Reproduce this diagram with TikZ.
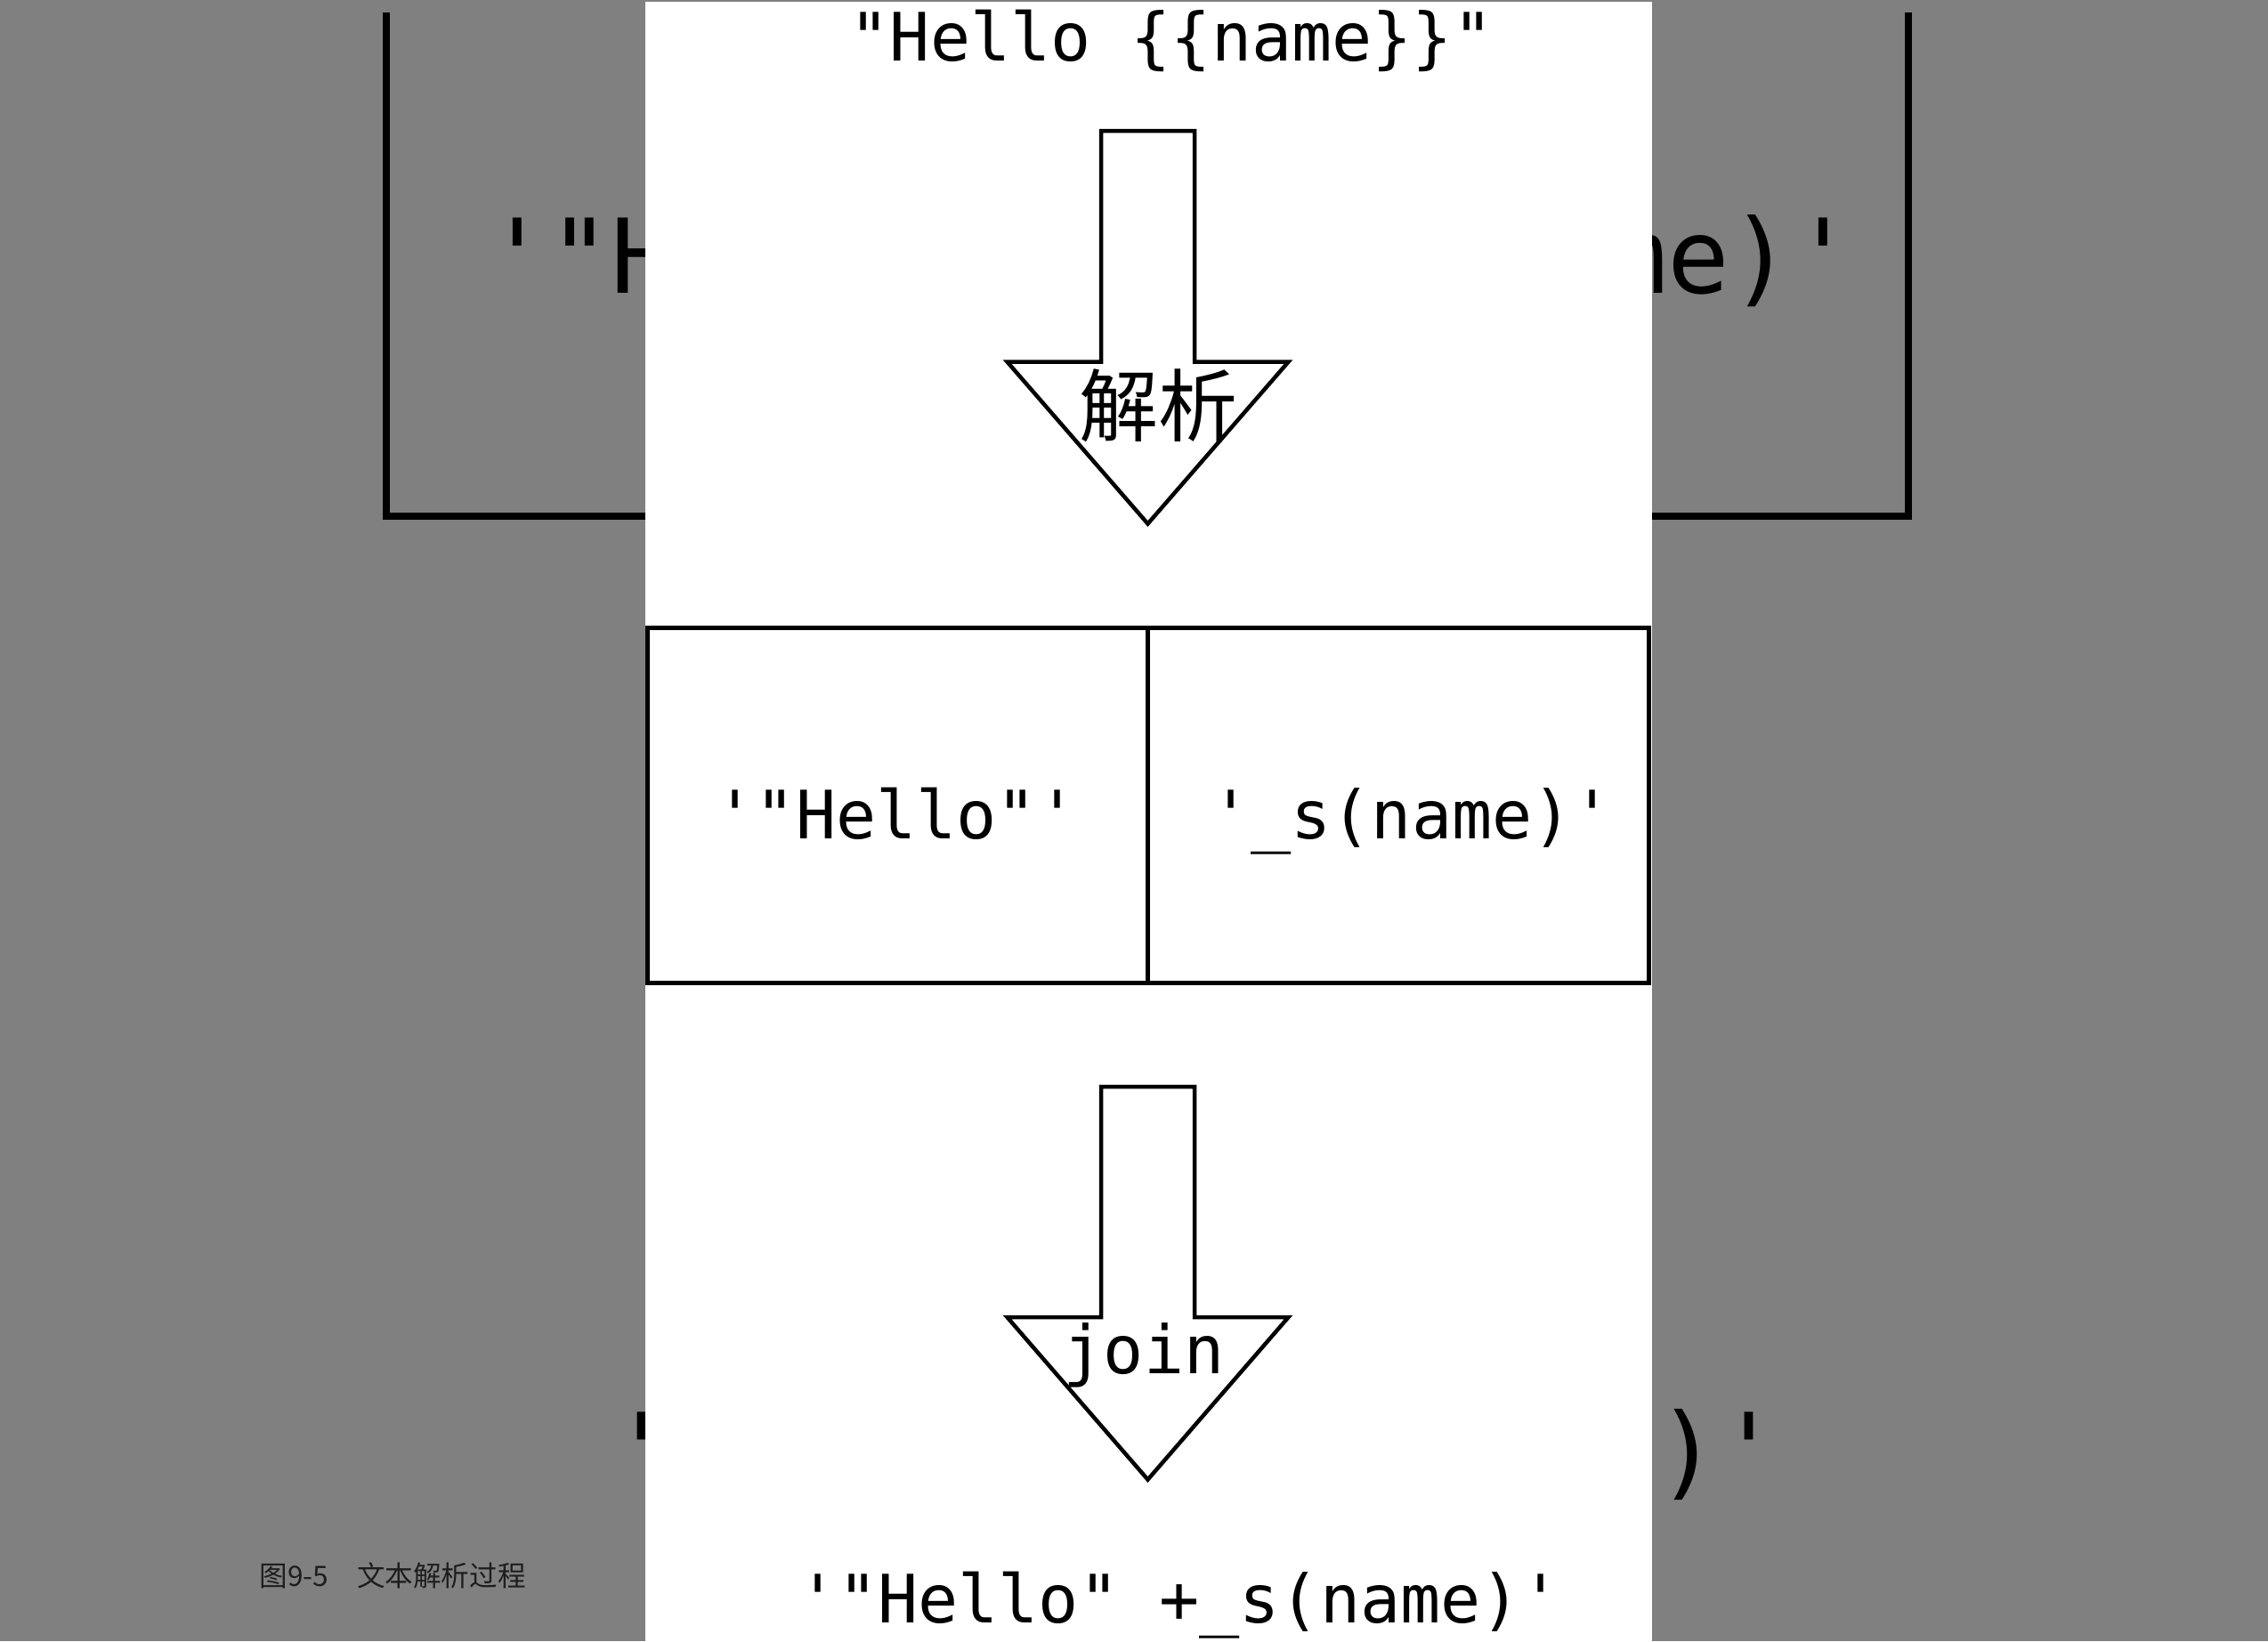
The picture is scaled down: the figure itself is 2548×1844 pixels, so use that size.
\documentclass[tikz,border=0pt]{standalone}
\usepackage{fontspec}
\newfontfamily\dmono{DejaVu Sans Mono}
\newfontfamily\cjksans{Noto Sans CJK SC}
\IfFontExistsTF{FandolSong-Regular.otf}{\newfontfamily\cjkserif{FandolSong-Regular.otf}}{%
  \IfFontExistsTF{HaranoAjiMincho-Regular.otf}{\newfontfamily\cjkserif{HaranoAjiMincho-Regular.otf}}{%
    \IfFontExistsTF{ipaexm.ttf}{\newfontfamily\cjkserif{ipaexm.ttf}}{\newfontfamily\cjkserif{Noto Sans CJK SC}}}}
\newcommand\qsgl{\textquotesingle}
\newcommand\qdbl{\textquotedbl}
\definecolor{bggray}{RGB}{128,128,128}
\definecolor{captxt}{RGB}{30,30,30}
\begin{document}
\begin{tikzpicture}[x=0.25pt,y=-0.25pt,
  mono/.style={font=\dmono\fontsize{18.75}{20}\selectfont, inner sep=0pt, anchor=base},
  bigmono/.style={font=\dmono\fontsize{29}{31}\selectfont, inner sep=0pt, anchor=base},
  cjklabel/.style={font=\cjkserif\fontsize{22.25}{24}\selectfont, inner sep=0pt},
  blockarrow/.style={draw=black, fill=white, line width=1.125pt, line join=miter},
  cellbox/.style={draw=black, line width=1.25pt, line join=miter},
  bracket/.style={draw=black, line width=2pt, line join=miter}]
\useasboundingbox (0,0) rectangle (2548,1844);
% background layer
\fill[bggray] (0,0) rectangle (2548,1844);
\draw[bracket] (434,14) -- (434,580) -- (2144,580) -- (2144,14);
\node[bigmono] (bgtop) at (1315,329) {\qsgl\qdbl Hello\qdbl\qsgl{} + \qsgl\_s(name)\qsgl};
\node[bigmono, font=\dmono\fontsize{28.7}{31}\selectfont] (bgbottom) at (1343,1670) {\qsgl\qdbl Hello\qdbl{} +\_s(name)\qsgl};
\node[font=\cjksans\fontsize{7.9}{9}\selectfont, text=captxt, anchor=base west, inner sep=0pt] (caption) at (291,1782) {图9-5　文本解析过程};
% white panel
\fill[white] (725,2) rectangle (1856,1844);
% source text
\node[mono] (src) at (1316,68) {\qdbl Hello \{\{name\}\}\qdbl};
% arrow 1
\coordinate (a1tl) at (1237,147);
\coordinate (a1tr) at (1342,147);
\coordinate (a1br) at (1342,406.5);
\coordinate (a1hr) at (1447.5,406.5);
\coordinate (a1tip) at (1289.5,588.5);
\coordinate (a1hl) at (1131.5,406.5);
\coordinate (a1bl) at (1237,406.5);
\draw[blockarrow] (a1tl) -- (a1tr) -- (a1br) -- (a1hr) -- (a1tip) -- (a1hl) -- (a1bl) -- cycle;
\node[cjklabel] (parse) at (1301,456) {解析};
% split box
\coordinate (boxtl) at (727,705.5);
\coordinate (boxbr) at (1852,1104.5);
\coordinate (divt) at (1289,705.5);
\coordinate (divb) at (1289,1104.5);
\draw[cellbox] (boxtl) rectangle (boxbr);
\draw[cellbox] (divt) -- (divb);
\node[mono] (partA) at (1007,942) {\qsgl\qdbl Hello\qdbl\qsgl};
\node[mono] (partB) at (1586,942) {\qsgl\_s(name)\qsgl};
% arrow 2
\coordinate (a2tl) at (1237,1221);
\coordinate (a2tr) at (1342,1221);
\coordinate (a2br) at (1342,1480);
\coordinate (a2hr) at (1447.5,1480);
\coordinate (a2tip) at (1289.5,1662.5);
\coordinate (a2hl) at (1131.5,1480);
\coordinate (a2bl) at (1237,1480);
\draw[blockarrow] (a2tl) -- (a2tr) -- (a2br) -- (a2hr) -- (a2tip) -- (a2hl) -- (a2bl) -- cycle;
\node[mono] (joinlbl) at (1285,1543) {join};
% result
\node[mono] (result) at (1325,1823) {\qsgl\qdbl Hello\qdbl{} +\_s(name)\qsgl};
\end{tikzpicture}
\end{document}
